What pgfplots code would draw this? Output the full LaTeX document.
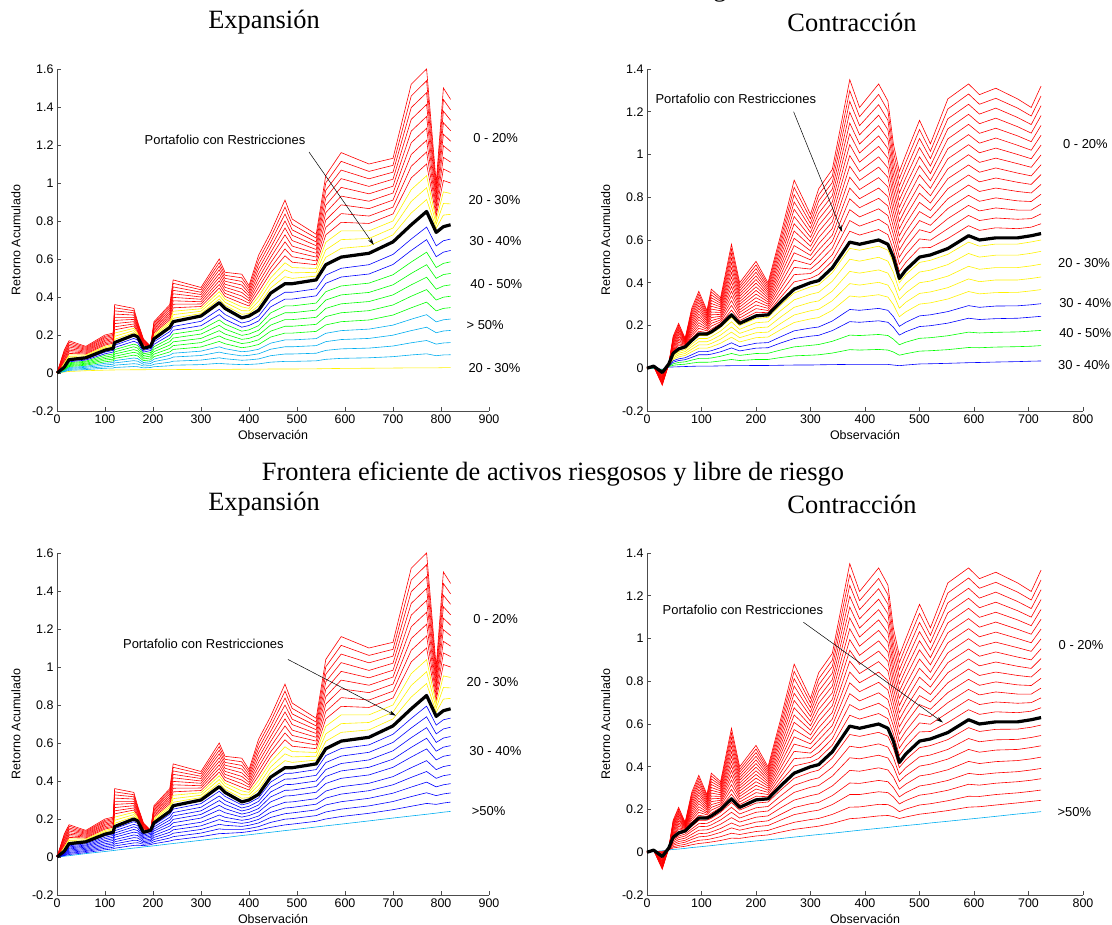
\documentclass[border=0pt]{standalone}
\usepackage{pgfplots}
\pgfplotsset{compat=1.18}
\usepackage{pgfplotstable}
\usepackage{fontspec}
\setmainfont{Liberation Sans}
\newfontfamily\serif{Liberation Serif}
\usetikzlibrary{arrows.meta}

% expansion: upper lines (red r1..r9, yellow y1..y3) and the portfolio (b)
\pgfplotstableread{
x r1 r2 r3 r4 r5 r6 r7 r8 r9 y1 y2 y3 b
0 0 0 0 0 0 0 0 0 0 0 0 0 0
15 0.12 0.113 0.105 0.098 0.09 0.083 0.075 0.068 0.06 0.053 0.045 0.038 0.03
25 0.17 0.162 0.153 0.145 0.137 0.128 0.12 0.112 0.103 0.095 0.087 0.078 0.07
60 0.14 0.135 0.13 0.125 0.12 0.115 0.11 0.105 0.1 0.095 0.09 0.085 0.08
100 0.2 0.193 0.187 0.18 0.173 0.167 0.16 0.153 0.147 0.14 0.133 0.127 0.12
117 0.21 0.203 0.197 0.19 0.183 0.177 0.17 0.163 0.157 0.15 0.143 0.137 0.13
120 0.36 0.343 0.327 0.31 0.293 0.277 0.26 0.243 0.227 0.21 0.193 0.177 0.16
160 0.34 0.328 0.317 0.305 0.293 0.282 0.27 0.258 0.247 0.235 0.223 0.212 0.2
168 0.27 0.263 0.257 0.25 0.243 0.237 0.23 0.223 0.217 0.21 0.203 0.197 0.19
180 0.18 0.176 0.172 0.168 0.163 0.159 0.155 0.151 0.147 0.143 0.138 0.134 0.13
195 0.14 0.14 0.14 0.14 0.14 0.14 0.14 0.14 0.14 0.14 0.14 0.14 0.14
202 0.27 0.263 0.255 0.248 0.24 0.233 0.225 0.218 0.21 0.203 0.195 0.188 0.18
235 0.36 0.35 0.34 0.33 0.32 0.31 0.3 0.29 0.28 0.27 0.26 0.25 0.24
242 0.49 0.472 0.453 0.435 0.417 0.398 0.38 0.362 0.343 0.325 0.307 0.288 0.27
300 0.45 0.438 0.425 0.413 0.4 0.388 0.375 0.363 0.35 0.338 0.325 0.313 0.3
338 0.6 0.581 0.562 0.543 0.523 0.504 0.485 0.466 0.447 0.428 0.408 0.389 0.37
350 0.53 0.514 0.498 0.483 0.467 0.451 0.435 0.419 0.403 0.388 0.372 0.356 0.34
385 0.52 0.501 0.482 0.463 0.443 0.424 0.405 0.386 0.367 0.348 0.328 0.309 0.29
400 0.46 0.447 0.433 0.42 0.407 0.393 0.38 0.367 0.353 0.34 0.327 0.313 0.3
420 0.62 0.596 0.572 0.548 0.523 0.499 0.475 0.451 0.427 0.403 0.378 0.354 0.33
445 0.74 0.713 0.687 0.66 0.633 0.607 0.58 0.553 0.527 0.5 0.473 0.447 0.42
475 0.91 0.873 0.837 0.8 0.763 0.727 0.69 0.653 0.617 0.58 0.543 0.507 0.47
490 0.81 0.782 0.753 0.725 0.697 0.668 0.64 0.612 0.583 0.555 0.527 0.498 0.47
540 0.73 0.71 0.69 0.67 0.65 0.63 0.61 0.59 0.57 0.55 0.53 0.51 0.49
560 1.04 1.001 0.962 0.922 0.883 0.844 0.805 0.766 0.727 0.688 0.648 0.609 0.57
592 1.16 1.114 1.068 1.023 0.977 0.931 0.885 0.839 0.793 0.748 0.702 0.656 0.61
650 1.1 1.061 1.022 0.982 0.943 0.904 0.865 0.826 0.787 0.748 0.708 0.669 0.63
700 1.13 1.093 1.057 1.02 0.983 0.947 0.91 0.873 0.837 0.8 0.763 0.727 0.69
738 1.52 1.458 1.397 1.335 1.273 1.212 1.15 1.088 1.027 0.965 0.903 0.842 0.78
770 1.6 1.538 1.475 1.413 1.35 1.288 1.225 1.163 1.1 1.038 0.975 0.913 0.85
790 1.0 0.978 0.957 0.935 0.913 0.892 0.87 0.848 0.827 0.805 0.783 0.762 0.74
805 1.5 1.439 1.378 1.317 1.257 1.196 1.135 1.074 1.013 0.953 0.892 0.831 0.77
820 1.44 1.385 1.33 1.275 1.22 1.165 1.11 1.055 1.0 0.945 0.89 0.835 0.78
}\Eup

% expansion, risky assets only: blue u1 u2, green g1..g5, cyan c1..c4, yellow l
\pgfplotstableread{
x u1 u2 g1 g2 g3 g4 g5 c1 c2 c3 c4 l
0 0 0 0 0 0 0 0 0 0 0 0 0
15 0.028 0.026 0.024 0.022 0.02 0.018 0.016 0.014 0.012 0.009 0.007 0.005
25 0.064 0.059 0.054 0.049 0.044 0.039 0.034 0.029 0.024 0.019 0.014 0.008
60 0.073 0.068 0.062 0.057 0.051 0.046 0.041 0.035 0.03 0.024 0.018 0.012
100 0.11 0.101 0.093 0.084 0.076 0.068 0.059 0.051 0.042 0.033 0.025 0.015
117 0.119 0.11 0.1 0.091 0.082 0.073 0.064 0.055 0.046 0.036 0.026 0.016
120 0.146 0.134 0.123 0.111 0.1 0.088 0.077 0.065 0.053 0.041 0.029 0.016
160 0.182 0.167 0.152 0.138 0.123 0.109 0.094 0.079 0.065 0.049 0.034 0.017
168 0.173 0.159 0.145 0.131 0.117 0.104 0.09 0.076 0.062 0.047 0.033 0.017
180 0.119 0.11 0.101 0.092 0.083 0.074 0.065 0.055 0.046 0.037 0.027 0.017
195 0.128 0.118 0.108 0.099 0.089 0.079 0.069 0.06 0.05 0.039 0.029 0.018
202 0.164 0.151 0.138 0.125 0.112 0.099 0.086 0.073 0.06 0.046 0.033 0.018
235 0.218 0.2 0.182 0.165 0.147 0.129 0.111 0.094 0.076 0.057 0.038 0.018
242 0.245 0.225 0.205 0.184 0.164 0.144 0.124 0.104 0.084 0.062 0.041 0.018
300 0.272 0.249 0.227 0.205 0.182 0.16 0.137 0.115 0.092 0.068 0.044 0.019
338 0.335 0.307 0.279 0.251 0.223 0.195 0.166 0.138 0.11 0.08 0.051 0.019
350 0.308 0.282 0.257 0.231 0.205 0.18 0.154 0.128 0.103 0.075 0.048 0.019
385 0.263 0.241 0.22 0.198 0.177 0.155 0.133 0.112 0.09 0.067 0.044 0.02
400 0.272 0.25 0.227 0.205 0.182 0.16 0.138 0.115 0.093 0.069 0.045 0.02
420 0.299 0.274 0.249 0.225 0.2 0.175 0.15 0.125 0.101 0.074 0.048 0.02
445 0.38 0.348 0.316 0.284 0.252 0.22 0.189 0.157 0.125 0.091 0.057 0.021
475 0.425 0.389 0.353 0.317 0.281 0.246 0.21 0.174 0.138 0.1 0.061 0.021
490 0.425 0.389 0.353 0.317 0.281 0.246 0.21 0.174 0.138 0.1 0.061 0.021
540 0.443 0.406 0.368 0.331 0.293 0.256 0.219 0.181 0.144 0.104 0.064 0.022
560 0.515 0.472 0.428 0.384 0.34 0.297 0.253 0.209 0.165 0.119 0.072 0.023
592 0.551 0.505 0.458 0.411 0.364 0.317 0.27 0.223 0.176 0.127 0.077 0.024
650 0.57 0.521 0.473 0.424 0.376 0.328 0.279 0.231 0.182 0.131 0.08 0.025
700 0.624 0.571 0.517 0.464 0.411 0.358 0.305 0.252 0.199 0.142 0.086 0.026
738 0.705 0.645 0.584 0.524 0.464 0.404 0.343 0.283 0.223 0.159 0.095 0.027
770 0.768 0.702 0.636 0.57 0.504 0.439 0.373 0.307 0.241 0.171 0.101 0.027
790 0.669 0.612 0.555 0.498 0.441 0.384 0.327 0.269 0.212 0.152 0.091 0.027
805 0.696 0.636 0.577 0.518 0.458 0.399 0.34 0.28 0.221 0.158 0.095 0.028
820 0.705 0.645 0.585 0.524 0.464 0.404 0.344 0.284 0.224 0.16 0.096 0.028
}\Elowa

% expansion, with risk-free asset: blue u1..u10, cyan l
\pgfplotstableread{
x u1 u2 u3 u4 u5 u6 u7 u8 u9 u10 l
0 0 0 0 0 0 0 0 0 0 0 0
15 0.028 0.025 0.023 0.021 0.019 0.016 0.014 0.011 0.009 0.007 0.004
25 0.064 0.059 0.053 0.047 0.042 0.036 0.03 0.024 0.019 0.013 0.007
60 0.074 0.069 0.063 0.058 0.052 0.046 0.04 0.034 0.029 0.023 0.018
100 0.112 0.104 0.096 0.087 0.079 0.07 0.062 0.054 0.046 0.038 0.029
117 0.121 0.113 0.104 0.096 0.087 0.077 0.069 0.06 0.051 0.043 0.034
120 0.149 0.138 0.126 0.115 0.104 0.091 0.08 0.069 0.058 0.046 0.035
160 0.186 0.172 0.159 0.145 0.131 0.116 0.102 0.088 0.074 0.061 0.047
168 0.177 0.165 0.152 0.139 0.127 0.113 0.1 0.087 0.075 0.062 0.049
180 0.123 0.116 0.109 0.102 0.095 0.088 0.081 0.074 0.067 0.06 0.053
195 0.133 0.125 0.118 0.11 0.103 0.094 0.087 0.08 0.072 0.065 0.057
202 0.169 0.158 0.147 0.137 0.126 0.114 0.103 0.092 0.081 0.07 0.059
235 0.225 0.209 0.194 0.178 0.163 0.146 0.13 0.115 0.1 0.084 0.069
242 0.252 0.234 0.216 0.198 0.18 0.16 0.143 0.125 0.107 0.089 0.071
300 0.281 0.262 0.243 0.224 0.205 0.183 0.164 0.145 0.126 0.107 0.088
338 0.346 0.321 0.297 0.272 0.248 0.221 0.197 0.172 0.148 0.123 0.099
350 0.319 0.297 0.276 0.255 0.233 0.209 0.188 0.167 0.145 0.124 0.102
385 0.274 0.258 0.242 0.226 0.21 0.193 0.177 0.161 0.145 0.129 0.113
400 0.284 0.267 0.251 0.234 0.218 0.199 0.183 0.167 0.15 0.134 0.117
420 0.311 0.293 0.274 0.255 0.237 0.216 0.198 0.179 0.16 0.142 0.123
445 0.394 0.368 0.342 0.316 0.29 0.261 0.235 0.208 0.182 0.156 0.13
475 0.44 0.41 0.381 0.351 0.321 0.288 0.258 0.228 0.199 0.169 0.139
490 0.441 0.411 0.382 0.352 0.323 0.29 0.261 0.232 0.202 0.173 0.143
540 0.46 0.43 0.4 0.371 0.341 0.307 0.278 0.248 0.218 0.188 0.158
560 0.534 0.497 0.46 0.424 0.387 0.347 0.31 0.274 0.237 0.2 0.164
592 0.571 0.531 0.492 0.453 0.414 0.37 0.331 0.291 0.252 0.213 0.173
650 0.59 0.551 0.511 0.472 0.432 0.388 0.349 0.309 0.269 0.23 0.19
700 0.646 0.603 0.559 0.515 0.472 0.423 0.38 0.336 0.292 0.249 0.205
738 0.729 0.679 0.628 0.577 0.526 0.47 0.419 0.368 0.318 0.267 0.216
770 0.794 0.738 0.681 0.625 0.569 0.507 0.45 0.394 0.338 0.282 0.225
790 0.694 0.648 0.603 0.557 0.511 0.46 0.414 0.369 0.323 0.277 0.231
805 0.722 0.674 0.626 0.578 0.53 0.476 0.428 0.38 0.332 0.284 0.236
820 0.731 0.683 0.634 0.586 0.537 0.483 0.434 0.386 0.337 0.289 0.24
}\Elowb

% contraction: upper red lines r1..r15 and the portfolio (b)
\pgfplotstableread{
x r1 r2 r3 r4 r5 r6 r7 r8 r9 r10 r11 r12 r13 r14 r15 b
0 0 0 0 0 0 0 0 0 0 0 0 0 0 0 0 0
12 0.01 0.01 0.01 0.01 0.01 0.01 0.01 0.01 0.01 0.01 0.01 0.01 0.01 0.01 0.01 0.01
28 -0.08 -0.076 -0.072 -0.068 -0.064 -0.06 -0.056 -0.052 -0.048 -0.044 -0.04 -0.036 -0.032 -0.028 -0.024 -0.02
40 0.02 0.02 0.02 0.02 0.02 0.02 0.02 0.02 0.02 0.02 0.02 0.02 0.02 0.02 0.02 0.02
48 0.15 0.145 0.139 0.134 0.129 0.123 0.118 0.113 0.107 0.102 0.097 0.091 0.086 0.081 0.075 0.07
58 0.21 0.202 0.194 0.186 0.178 0.17 0.162 0.154 0.146 0.138 0.13 0.122 0.114 0.106 0.098 0.09
70 0.14 0.137 0.135 0.132 0.129 0.127 0.124 0.121 0.119 0.116 0.113 0.111 0.108 0.105 0.103 0.1
82 0.28 0.27 0.26 0.25 0.24 0.23 0.22 0.21 0.2 0.19 0.18 0.17 0.16 0.15 0.14 0.13
95 0.36 0.347 0.333 0.32 0.307 0.293 0.28 0.267 0.253 0.24 0.227 0.213 0.2 0.187 0.173 0.16
110 0.27 0.263 0.255 0.248 0.241 0.233 0.226 0.219 0.211 0.204 0.197 0.189 0.182 0.175 0.167 0.16
118 0.37 0.357 0.343 0.33 0.317 0.303 0.29 0.277 0.263 0.25 0.237 0.223 0.21 0.197 0.183 0.17
135 0.33 0.321 0.313 0.304 0.295 0.287 0.278 0.269 0.261 0.252 0.243 0.235 0.226 0.217 0.209 0.2
155 0.58 0.558 0.536 0.514 0.492 0.47 0.448 0.426 0.404 0.382 0.36 0.338 0.316 0.294 0.272 0.25
170 0.4 0.387 0.375 0.362 0.349 0.337 0.324 0.311 0.299 0.286 0.273 0.261 0.248 0.235 0.223 0.21
200 0.5 0.483 0.466 0.449 0.432 0.415 0.398 0.381 0.364 0.347 0.33 0.313 0.296 0.279 0.262 0.245
222 0.4 0.39 0.38 0.37 0.36 0.35 0.34 0.33 0.32 0.31 0.3 0.29 0.28 0.27 0.26 0.25
245 0.62 0.599 0.579 0.558 0.537 0.517 0.496 0.475 0.455 0.434 0.413 0.393 0.372 0.351 0.331 0.31
270 0.88 0.846 0.812 0.778 0.744 0.71 0.676 0.642 0.608 0.574 0.54 0.506 0.472 0.438 0.404 0.37
300 0.72 0.699 0.677 0.656 0.635 0.613 0.592 0.571 0.549 0.528 0.507 0.485 0.464 0.443 0.421 0.4
315 0.84 0.811 0.783 0.754 0.725 0.697 0.668 0.639 0.611 0.582 0.553 0.525 0.496 0.467 0.439 0.41
340 0.93 0.899 0.869 0.838 0.807 0.777 0.746 0.715 0.685 0.654 0.623 0.593 0.562 0.531 0.501 0.47
372 1.35 1.299 1.249 1.198 1.147 1.097 1.046 0.995 0.945 0.894 0.843 0.793 0.742 0.691 0.641 0.59
390 1.22 1.177 1.135 1.092 1.049 1.007 0.964 0.921 0.879 0.836 0.793 0.751 0.708 0.665 0.623 0.58
425 1.33 1.281 1.233 1.184 1.135 1.087 1.038 0.989 0.941 0.892 0.843 0.795 0.746 0.697 0.649 0.6
442 1.25 1.205 1.161 1.116 1.071 1.027 0.982 0.937 0.893 0.848 0.803 0.759 0.714 0.669 0.625 0.58
452 1.05 1.015 0.979 0.944 0.909 0.873 0.838 0.803 0.767 0.732 0.697 0.661 0.626 0.591 0.555 0.52
463 0.92 0.887 0.853 0.82 0.787 0.753 0.72 0.687 0.653 0.62 0.587 0.553 0.52 0.487 0.453 0.42
475 1.0 0.964 0.928 0.892 0.856 0.82 0.784 0.748 0.712 0.676 0.64 0.604 0.568 0.532 0.496 0.46
500 1.16 1.117 1.075 1.032 0.989 0.947 0.904 0.861 0.819 0.776 0.733 0.691 0.648 0.605 0.563 0.52
520 1.05 1.015 0.981 0.946 0.911 0.877 0.842 0.807 0.773 0.738 0.703 0.669 0.634 0.599 0.565 0.53
552 1.26 1.213 1.167 1.12 1.073 1.027 0.98 0.933 0.887 0.84 0.793 0.747 0.7 0.653 0.607 0.56
590 1.33 1.283 1.235 1.188 1.141 1.093 1.046 0.999 0.951 0.904 0.857 0.809 0.762 0.715 0.667 0.62
610 1.28 1.235 1.189 1.144 1.099 1.053 1.008 0.963 0.917 0.872 0.827 0.781 0.736 0.691 0.645 0.6
640 1.31 1.263 1.217 1.17 1.123 1.077 1.03 0.983 0.937 0.89 0.843 0.797 0.75 0.703 0.657 0.61
680 1.26 1.217 1.173 1.13 1.087 1.043 1.0 0.957 0.913 0.87 0.827 0.783 0.74 0.697 0.653 0.61
705 1.22 1.18 1.14 1.1 1.06 1.02 0.98 0.94 0.9 0.86 0.82 0.78 0.74 0.7 0.66 0.62
723 1.32 1.274 1.228 1.182 1.136 1.09 1.044 0.998 0.952 0.906 0.86 0.814 0.768 0.722 0.676 0.63
}\Cup

% contraction, risky assets only: yellow y1..y5, blue u1 u2, green g1 g2, blue l
\pgfplotstableread{
x y1 y2 y3 y4 y5 u1 u2 g1 g2 l
0 0 0 0 0 0 0 0 0 0 0
12 0.01 0.009 0.008 0.007 0.006 0.005 0.004 0.002 0.001 0
28 -0.019 -0.018 -0.016 -0.015 -0.013 -0.012 -0.01 -0.009 -0.007 -0.005
40 0.019 0.018 0.016 0.015 0.013 0.012 0.01 0.009 0.007 0.005
48 0.067 0.061 0.055 0.048 0.042 0.035 0.028 0.021 0.014 0.006
58 0.086 0.078 0.07 0.062 0.053 0.044 0.036 0.027 0.017 0.007
70 0.095 0.087 0.078 0.069 0.06 0.049 0.04 0.03 0.019 0.008
82 0.124 0.113 0.101 0.089 0.077 0.063 0.051 0.038 0.024 0.009
95 0.153 0.139 0.124 0.109 0.094 0.078 0.063 0.046 0.028 0.01
110 0.153 0.139 0.124 0.109 0.094 0.078 0.063 0.046 0.028 0.01
118 0.162 0.148 0.132 0.116 0.1 0.082 0.066 0.048 0.029 0.01
135 0.191 0.174 0.155 0.136 0.117 0.096 0.077 0.056 0.034 0.011
155 0.238 0.217 0.193 0.169 0.145 0.119 0.095 0.069 0.041 0.012
170 0.2 0.182 0.163 0.143 0.123 0.101 0.081 0.06 0.036 0.012
200 0.233 0.213 0.189 0.166 0.143 0.117 0.094 0.069 0.041 0.013
222 0.238 0.217 0.193 0.169 0.146 0.12 0.096 0.07 0.041 0.013
245 0.295 0.269 0.239 0.209 0.18 0.147 0.118 0.085 0.05 0.014
270 0.352 0.32 0.285 0.249 0.214 0.175 0.139 0.1 0.058 0.015
300 0.381 0.346 0.308 0.269 0.231 0.188 0.15 0.107 0.061 0.015
315 0.39 0.355 0.315 0.276 0.237 0.193 0.154 0.111 0.063 0.016
340 0.447 0.407 0.361 0.316 0.271 0.221 0.176 0.126 0.071 0.017
372 0.561 0.51 0.453 0.396 0.338 0.275 0.218 0.155 0.087 0.018
390 0.552 0.501 0.445 0.389 0.333 0.271 0.215 0.153 0.085 0.018
425 0.571 0.519 0.46 0.402 0.344 0.28 0.222 0.158 0.088 0.018
442 0.552 0.501 0.445 0.389 0.333 0.271 0.215 0.153 0.085 0.018
452 0.495 0.449 0.399 0.348 0.298 0.242 0.192 0.136 0.076 0.015
463 0.4 0.363 0.322 0.281 0.241 0.196 0.155 0.11 0.061 0.012
475 0.438 0.398 0.353 0.309 0.264 0.215 0.171 0.122 0.068 0.015
500 0.495 0.45 0.4 0.35 0.3 0.245 0.195 0.14 0.08 0.02
520 0.505 0.459 0.408 0.357 0.306 0.25 0.199 0.143 0.082 0.021
552 0.533 0.485 0.431 0.377 0.324 0.265 0.211 0.152 0.087 0.023
590 0.59 0.537 0.477 0.418 0.359 0.293 0.234 0.169 0.097 0.026
610 0.571 0.52 0.463 0.405 0.348 0.285 0.228 0.165 0.096 0.027
640 0.581 0.529 0.471 0.413 0.354 0.291 0.232 0.168 0.099 0.029
680 0.581 0.529 0.471 0.413 0.355 0.292 0.234 0.17 0.101 0.031
705 0.591 0.538 0.479 0.42 0.362 0.297 0.239 0.174 0.103 0.033
723 0.6 0.547 0.487 0.427 0.368 0.302 0.243 0.177 0.106 0.034
}\Clowa

% contraction, with risk-free asset: red r1..r8, cyan l
\pgfplotstableread{
x r1 r2 r3 r4 r5 r6 r7 r8 l
0 0 0 0 0 0 0 0 0 0
12 0.01 0.009 0.008 0.007 0.006 0.006 0.005 0.004 0.003
28 -0.018 -0.015 -0.012 -0.008 -0.005 -0.002 0.001 0.004 0.007
40 0.019 0.018 0.017 0.016 0.015 0.014 0.013 0.012 0.011
48 0.065 0.059 0.053 0.046 0.039 0.033 0.026 0.02 0.013
58 0.084 0.076 0.068 0.059 0.05 0.041 0.032 0.024 0.015
70 0.094 0.085 0.076 0.066 0.056 0.047 0.037 0.028 0.018
82 0.121 0.109 0.098 0.084 0.071 0.06 0.047 0.035 0.022
95 0.149 0.134 0.12 0.103 0.087 0.072 0.056 0.041 0.025
110 0.15 0.135 0.121 0.105 0.089 0.075 0.059 0.045 0.029
118 0.159 0.144 0.128 0.112 0.095 0.08 0.063 0.048 0.031
135 0.187 0.169 0.151 0.131 0.111 0.093 0.073 0.055 0.036
155 0.233 0.21 0.187 0.162 0.137 0.114 0.089 0.066 0.041
170 0.197 0.179 0.16 0.141 0.121 0.103 0.083 0.065 0.045
200 0.23 0.208 0.187 0.164 0.141 0.12 0.097 0.076 0.053
222 0.235 0.214 0.193 0.17 0.147 0.125 0.102 0.081 0.058
245 0.29 0.263 0.236 0.207 0.177 0.15 0.121 0.094 0.064
270 0.346 0.313 0.28 0.244 0.209 0.176 0.14 0.107 0.071
300 0.374 0.339 0.304 0.265 0.227 0.191 0.153 0.117 0.079
315 0.384 0.348 0.312 0.273 0.233 0.197 0.158 0.122 0.083
340 0.44 0.398 0.356 0.31 0.265 0.223 0.177 0.135 0.089
372 0.551 0.496 0.442 0.383 0.324 0.27 0.211 0.157 0.098
390 0.542 0.489 0.437 0.379 0.322 0.27 0.212 0.16 0.103
425 0.561 0.507 0.454 0.395 0.336 0.283 0.224 0.17 0.112
442 0.543 0.492 0.441 0.385 0.33 0.279 0.223 0.172 0.116
452 0.488 0.444 0.4 0.352 0.303 0.259 0.211 0.167 0.119
463 0.396 0.363 0.331 0.295 0.259 0.226 0.19 0.158 0.122
475 0.433 0.396 0.359 0.319 0.279 0.242 0.202 0.165 0.125
500 0.489 0.446 0.403 0.357 0.31 0.267 0.221 0.178 0.131
520 0.499 0.455 0.412 0.365 0.318 0.274 0.227 0.184 0.137
552 0.527 0.481 0.436 0.386 0.336 0.29 0.241 0.195 0.145
590 0.583 0.532 0.481 0.425 0.369 0.318 0.262 0.211 0.155
610 0.565 0.517 0.468 0.415 0.363 0.314 0.261 0.213 0.16
640 0.575 0.526 0.478 0.424 0.371 0.323 0.27 0.221 0.168
680 0.576 0.528 0.481 0.429 0.377 0.33 0.278 0.231 0.179
705 0.585 0.537 0.49 0.437 0.385 0.337 0.285 0.238 0.185
723 0.595 0.546 0.498 0.445 0.392 0.344 0.291 0.243 0.19
}\Clowb

\tikzset{
  thin line/.style={line width=0.6bp},
  port/.style={black, line width=3.2bp, line join=round},
  note/.style={font=\fontsize{13}{15}\selectfont},
  lab/.style={font=\fontsize{13}{15}\selectfont, anchor=west},
  ann/.style={-{Stealth[length=7bp,width=4bp]}, line width=0.5bp},
  ttl/.style={font=\serif\fontsize{26.5}{30}\selectfont},
}
\pgfplotsset{
  panel/.style={
    scale only axis, height=342bp,
    axis x line*=bottom, axis y line*=left,
    axis line style={-, line width=0.7bp, black!70},
    tick align=inside, major tick length=4bp,
    tick style={line width=0.7bp, black!70},
    xmin=0, ymin=-0.2, clip=false,
    /pgf/number format/assume math mode=true,
    ticklabel style={font=\fontsize{12.5}{14}\selectfont},
    xlabel={Observación}, ylabel={Retorno Acumulado},
    every axis y label/.style={at={(axis description cs:-0.095,0.5)}, rotate=90, anchor=center,
      font=\fontsize{12.5}{15}\selectfont},
    every axis x label/.style={at={(axis description cs:0.5,-0.069)}, anchor=center,
      font=\fontsize{12.5}{15}\selectfont},
  },
  exp/.style={panel, width=432bp, xmax=900, ymax=1.6, xtick={0,100,...,900},
    ytick={-0.2,0,0.2,0.4,0.6,0.8,1,1.2,1.4,1.6}},
  con/.style={panel, width=436bp, xmax=800, ymax=1.4, xtick={0,100,...,800},
    ytick={-0.2,0,0.2,0.4,0.6,0.8,1,1.2,1.4}},
}

\begin{document}
\begin{tikzpicture}
\useasboundingbox (0,0) rectangle (1112bp,925bp);

% top left
\begin{axis}[exp, at={(57bp,514bp)}, anchor=south west]
  \addplot[yellow, thin line] table[x=x, y=l] {\Elowa};
  \pgfplotsinvokeforeach{c4,c3,c2,c1}{\addplot[cyan, thin line] table[x=x, y=#1] {\Elowa};}
  \pgfplotsinvokeforeach{g5,g4,g3,g2,g1}{\addplot[green, thin line] table[x=x, y=#1] {\Elowa};}
  \pgfplotsinvokeforeach{u2,u1}{\addplot[blue, thin line] table[x=x, y=#1] {\Elowa};}
  \pgfplotsinvokeforeach{y3,y2,y1}{\addplot[yellow, thin line] table[x=x, y=#1] {\Eup};}
  \pgfplotsinvokeforeach{r9,r8,r7,r6,r5,r4,r3,r2,r1}{\addplot[red, thin line] table[x=x, y=#1] {\Eup};}
  \addplot[port] table[x=x, y=b] {\Eup};
  \node[note] at (axis cs:350,1.226) {Portafolio con Restricciones};
  \draw[ann] (axis cs:525,1.163) -- (axis cs:660,0.674);
  \node[lab] at (axis cs:860,1.237) {0 - 20\%};
  \node[lab] at (axis cs:850,0.91) {20 - 30\%};
  \node[lab] at (axis cs:852,0.695) {30 - 40\%};
  \node[lab] at (axis cs:854,0.468) {40 - 50\%};
  \node[lab] at (axis cs:846,0.25) {> 50\%};
  \node[lab] at (axis cs:850,0.026) {20 - 30\%};
\end{axis}

% top right
\begin{axis}[con, at={(647bp,514bp)}, anchor=south west]
  \addplot[blue, thin line] table[x=x, y=l] {\Clowa};
  \pgfplotsinvokeforeach{g2,g1}{\addplot[green, thin line] table[x=x, y=#1] {\Clowa};}
  \pgfplotsinvokeforeach{u2,u1}{\addplot[blue, thin line] table[x=x, y=#1] {\Clowa};}
  \pgfplotsinvokeforeach{y5,y4,y3,y2,y1}{\addplot[yellow, thin line] table[x=x, y=#1] {\Clowa};}
  \pgfplotsinvokeforeach{r15,r14,r13,r12,r11,r10,r9,r8,r7,r6,r5,r4,r3,r2,r1}{\addplot[red, thin line] table[x=x, y=#1] {\Cup};}
  \addplot[port] table[x=x, y=b] {\Cup};
  \node[note] at (axis cs:163,1.258) {Portafolio con Restricciones};
  \draw[ann] (axis cs:269,1.2) -- (axis cs:358,0.638);
  \node[lab] at (axis cs:757,1.048) {0 - 20\%};
  \node[lab] at (axis cs:748,0.49) {20 - 30\%};
  \node[lab] at (axis cs:750,0.305) {30 - 40\%};
  \node[lab] at (axis cs:750,0.164) {40 - 50\%};
  \node[lab] at (axis cs:748,0.017) {30 - 40\%};
\end{axis}

% bottom left
\begin{axis}[exp, at={(57bp,30bp)}, anchor=south west]
  \addplot[cyan, thin line] table[x=x, y=l] {\Elowb};
  \pgfplotsinvokeforeach{u10,u9,u8,u7,u6,u5,u4,u3,u2,u1}{\addplot[blue, thin line] table[x=x, y=#1] {\Elowb};}
  \pgfplotsinvokeforeach{y3,y2,y1}{\addplot[yellow, thin line] table[x=x, y=#1] {\Eup};}
  \pgfplotsinvokeforeach{r9,r8,r7,r6,r5,r4,r3,r2,r1}{\addplot[red, thin line] table[x=x, y=#1] {\Eup};}
  \addplot[port] table[x=x, y=b] {\Eup};
  \node[note] at (axis cs:305,1.12) {Portafolio con Restricciones};
  \draw[ann] (axis cs:481,1.04) -- (axis cs:706,0.744);
  \node[lab] at (axis cs:860,1.25) {0 - 20\%};
  \node[lab] at (axis cs:846,0.92) {20 - 30\%};
  \node[lab] at (axis cs:852,0.556) {30 - 40\%};
  \node[lab] at (axis cs:857,0.243) {>50\%};
\end{axis}

% bottom right
\begin{axis}[con, at={(647bp,30bp)}, anchor=south west]
  \addplot[cyan, thin line] table[x=x, y=l] {\Clowb};
  \pgfplotsinvokeforeach{r8,r7,r6,r5,r4,r3,r2,r1}{\addplot[red, thin line] table[x=x, y=#1] {\Clowb};}
  \pgfplotsinvokeforeach{r15,r14,r13,r12,r11,r10,r9,r8,r7,r6,r5,r4,r3,r2,r1}{\addplot[red, thin line] table[x=x, y=#1] {\Cup};}
  \addplot[port] table[x=x, y=b] {\Cup};
  \node[note] at (axis cs:176,1.136) {Portafolio con Restricciones};
  \draw[ann] (axis cs:287,1.076) -- (axis cs:543,0.607);
  \node[lab] at (axis cs:749,0.97) {0 - 20\%};
  \node[lab] at (axis cs:747,0.188) {>50\%};
\end{axis}

% titles (the first one lies almost wholly above the page, as in the source)
\node[overlay, anchor=base, ttl] at (571bp,928bp) {Frontera eficiente de activos riesgosos};
\node[ttl] at (264bp,903bp) {Expansión};
\node[ttl] at (852bp,903bp) {Contracción};
\node[ttl] at (553bp,451bp) {Frontera eficiente de activos riesgosos y libre de riesgo};
\node[ttl] at (264bp,421bp) {Expansión};
\node[ttl] at (852bp,421bp) {Contracción};
\end{tikzpicture}
\end{document}
